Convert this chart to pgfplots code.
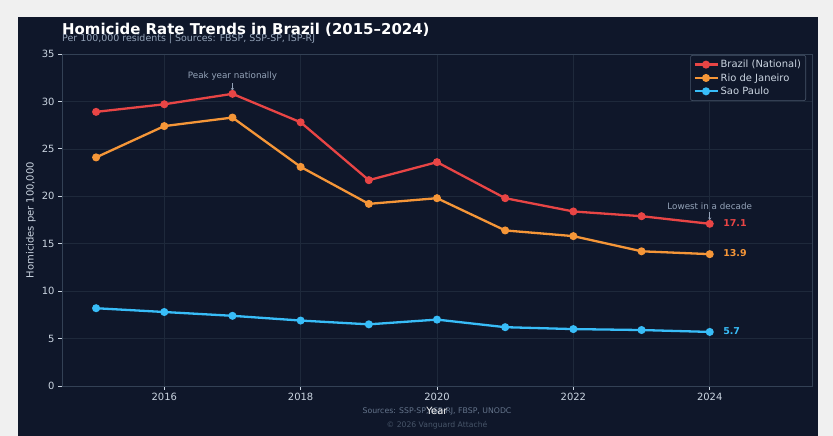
\documentclass[border=0pt]{standalone}
\usepackage{pgfplots}
\pgfplotsset{compat=1.18}
\usepackage{fontspec}
\setmainfont{DejaVu Sans}
\usetikzlibrary{arrows.meta}
\definecolor{bgouter}{HTML}{F0F0F0}
\definecolor{panel}{HTML}{0F172A}
\definecolor{spine}{HTML}{334155}
\definecolor{gridc}{HTML}{1E293B}
\definecolor{tickc}{HTML}{CBD5E1}
\definecolor{subc}{HTML}{94A3B8}
\definecolor{srcc}{HTML}{64748B}
\definecolor{copyc}{HTML}{475569}
\definecolor{cred}{HTML}{E84545}
\definecolor{corange}{HTML}{F59638}
\definecolor{cblue}{HTML}{38BDF8}
\begin{document}
\begin{tikzpicture}
\fill[bgouter] (0bp,0bp) rectangle (833bp,436bp);
\fill[panel] (18bp,0bp) rectangle (818bp,419bp);
\node[anchor=base west, text=white, font=\fontsize{15}{18}\selectfont\bfseries, inner sep=0pt] at (62bp,401.7bp) {Homicide Rate Trends in Brazil (2015–2024)};
\node[anchor=base west, text=subc, font=\fontsize{9.5}{11}\selectfont, inner sep=0pt] at (62bp,394.3bp) {Per 100,000 residents | Sources: FBSP, SSP-SP, ISP-RJ};
\node[anchor=center, text=srcc, font=\fontsize{7.8}{9}\selectfont, inner sep=0pt] at (437bp,25bp) {Sources: SSP-SP, ISP-RJ, FBSP, UNODC};
\node[anchor=center, text=copyc, font=\fontsize{7.7}{9}\selectfont, inner sep=0pt] at (437bp,11bp) {© 2026 Vanguard Attaché};
\begin{axis}[
  at={(62bp,50bp)}, anchor=south west,
  width=750bp, height=332bp, scale only axis,
  xmin=2014.5, xmax=2025.5, ymin=0, ymax=35,
  xtick={2016,2018,2020,2022,2024},
  ytick={0,5,10,15,20,25,30,35},
  /pgf/number format/assume math mode=true,
  /pgf/number format/1000 sep={},
  tick label style={text=tickc, font=\fontsize{10}{12}\selectfont},
  axis line style={spine, line width=0.8bp},
  tick style={tickc, line width=0.8bp},
  major tick length=4bp,
  tick align=outside, tick pos=left,
  grid=major,
  major grid style={gridc, line width=0.6bp},
  xlabel={Year}, ylabel={Homicides per 100,000},
  label style={text=tickc, font=\fontsize{10}{12}\selectfont},
  x label style={at={(axis description cs:0.5,0)}, anchor=center, yshift=-25bp, text=white},
  y label style={at={(axis description cs:0,0.5)}, anchor=center, rotate=0, yshift=31bp},
  legend style={at={(0.992,0.997)}, anchor=north east, fill=panel, draw=copyc,
    rounded corners=2bp, text=tickc, font=\fontsize{10}{12}\selectfont,
    row sep=0.3bp, inner sep=2.8bp, line width=0.6bp},
  legend cell align=left,
  legend image code/.code={\draw[mark repeat=2,mark phase=2] plot coordinates {(0bp,0bp)(11.5bp,0bp)(23bp,0bp)};},
  every axis plot/.append style={line width=2.3bp, mark=*, mark size=2.8bp},
]
\addplot[cred, mark options={fill=cred, draw=cred}] coordinates {
(2015,28.9) (2016,29.7) (2017,30.8) (2018,27.8) (2019,21.7) (2020,23.6) (2021,19.8) (2022,18.4) (2023,17.9) (2024,17.1)};
\addlegendentry{Brazil (National)}
\addplot[corange, mark options={fill=corange, draw=corange}] coordinates {
(2015,24.1) (2016,27.4) (2017,28.3) (2018,23.1) (2019,19.2) (2020,19.8) (2021,16.4) (2022,15.8) (2023,14.2) (2024,13.9)};
\addlegendentry{Rio de Janeiro}
\addplot[cblue, mark options={fill=cblue, draw=cblue}] coordinates {
(2015,8.2) (2016,7.8) (2017,7.4) (2018,6.9) (2019,6.5) (2020,7.0) (2021,6.2) (2022,6.0) (2023,5.9) (2024,5.7)};
\addlegendentry{Sao Paulo}
\node[anchor=west, text=cred, font=\fontsize{9.5}{11}\selectfont\bfseries, xshift=10bp, yshift=1bp] at (axis cs:2024,17.1) {17.1};
\node[anchor=west, text=corange, font=\fontsize{9.5}{11}\selectfont\bfseries, xshift=10bp, yshift=1bp] at (axis cs:2024,13.9) {13.9};
\node[anchor=west, text=cblue, font=\fontsize{9.5}{11}\selectfont\bfseries, xshift=10bp, yshift=1bp] at (axis cs:2024,5.7) {5.7};
\node[anchor=center, text=subc, font=\fontsize{8.8}{10}\selectfont] at (axis cs:2017,32.68) {Peak year nationally};
\draw[subc, line width=0.7bp, -{Stealth[length=3bp,width=3bp]}] (axis cs:2017,31.9) -- (axis cs:2017,31.1);
\node[anchor=center, text=subc, font=\fontsize{8.8}{10}\selectfont] at (axis cs:2024,18.98) {Lowest in a decade};
\draw[subc, line width=0.7bp, -{Stealth[length=3bp,width=3bp]}] (axis cs:2024,18.3) -- (axis cs:2024,17.45);
\end{axis}
\end{tikzpicture}
\end{document}
